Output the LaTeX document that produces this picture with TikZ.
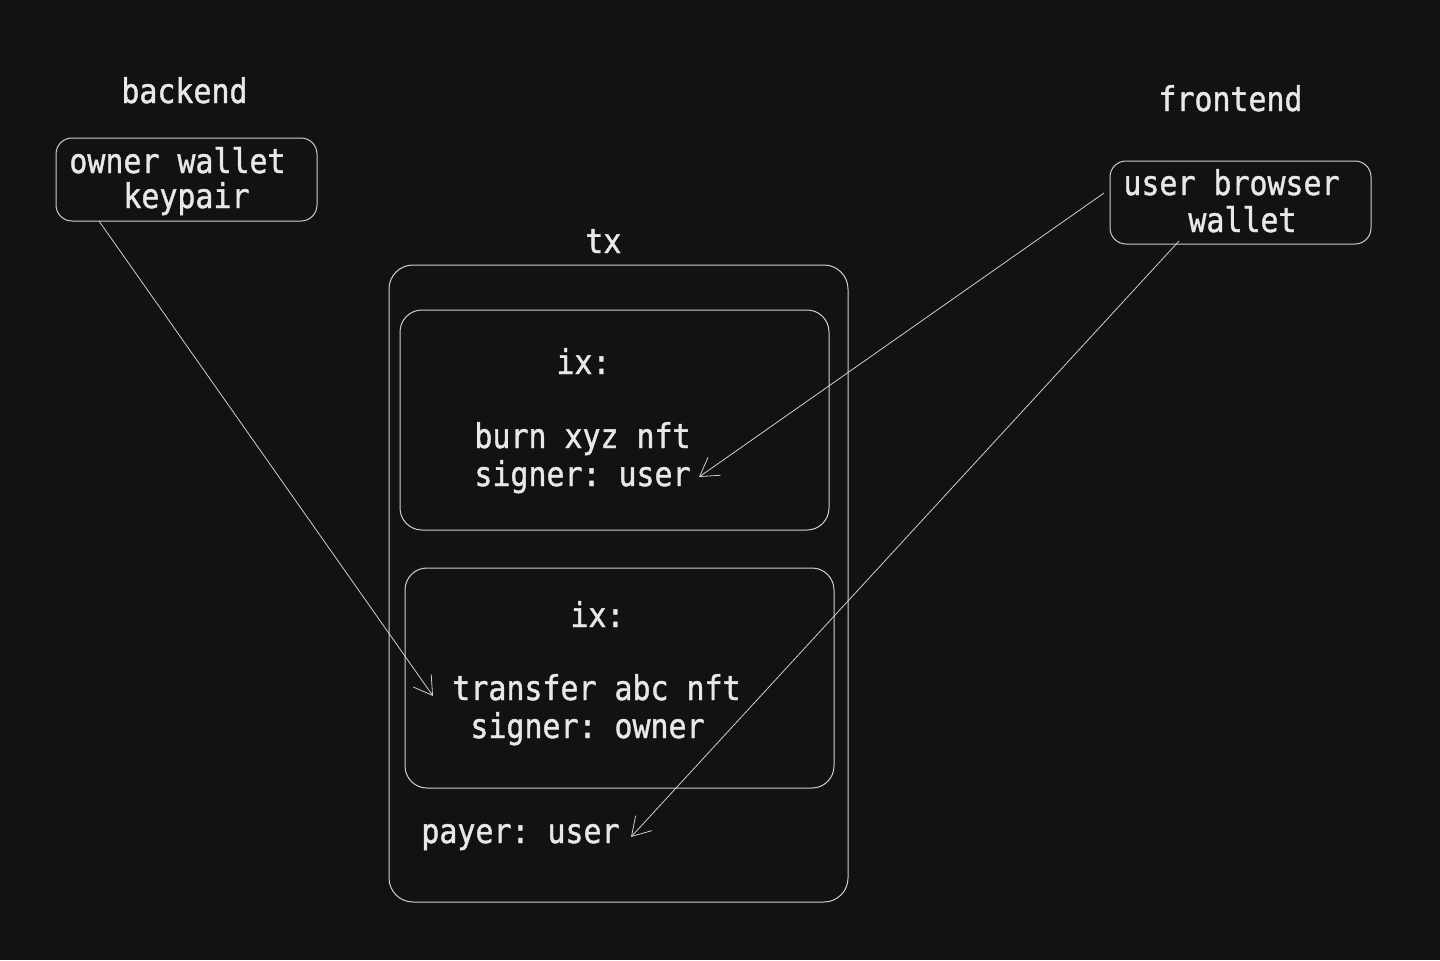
\documentclass[tikz,border=0pt]{standalone}
\usepackage{fontspec}
\newfontfamily\diagmono[FakeStretch=0.88,FakeBold=1.2,PunctuationSpace=0]{DejaVu Sans Mono}
\usetikzlibrary{arrows.meta}
\definecolor{bg}{HTML}{121212}
\definecolor{stroke}{HTML}{CFCFCF}
\definecolor{txt}{HTML}{E8E8E8}
\tikzset{
  box/.style={draw=stroke, line width=0.5pt, rounded corners=#1, inner sep=0pt},
  box/.default=8pt,
  lbl/.style={text=txt, inner sep=0pt, anchor=base west, font=\diagmono\fontsize{17}{20}\selectfont\frenchspacing},
  arr/.style={draw=stroke, line width=0.4pt, -{Straight Barb[length=9pt,width=11pt,line width=0.4pt]}}
}
\begin{document}
\begin{tikzpicture}[x=0.5pt,y=-0.5pt]
\fill[bg] (0,0) rectangle (1440,960);
\useasboundingbox (0,0) rectangle (1440,960);
% boxes
\node[box=8pt, minimum width=130.5pt, minimum height=41.5pt] (owner) at (186.5,179.5) {};
\node[box=8pt, minimum width=130.5pt, minimum height=41.5pt] (userw) at (1240.5,202.5) {};
\node[box=12pt, minimum width=229.5pt, minimum height=318.5pt] (tx) at (618.5,583.5) {};
\node[box=11pt, minimum width=214.5pt, minimum height=110pt] (ixa) at (614.5,420) {};
\node[box=11pt, minimum width=214.5pt, minimum height=110pt] (ixb) at (619.5,678) {};
% labels
\node[lbl] (backend) at (121,103) {backend};
\node[lbl] (frontend) at (1158,111) {frontend};
\node[lbl] (ow1) at (69,173) {owner wallet};
\node[lbl] (ow2) at (123,208) {keypair};
\node[lbl] (ub1) at (1123,195) {user browser};
\node[lbl] (ub2) at (1188,232) {wallet};
\node[lbl] (txl) at (585,253) {tx};
\node[lbl] (ixal) at (556,374) {ix:};
\node[lbl] (burn) at (474,448) {burn xyz nft};
\node[lbl] (sigu) at (474,486) {signer: user};
\node[lbl] (ixbl) at (570,627) {ix:};
\node[lbl] (trans) at (452,700) {transfer abc nft};
\node[lbl] (sigo) at (470,738) {signer: owner};
\node[lbl] (payer) at (421,843) {payer: user};
% connector endpoints
\coordinate (a1s) at (99,221);
\coordinate (a1e) at (433,696);
\coordinate (a2s) at (1104,193);
\coordinate (a2e) at (699,477);
\coordinate (a3s) at (1179,241);
\coordinate (a3e) at (631,837);
\draw[arr] (a1s) -- (a1e);
\draw[arr] (a2s) -- (a2e);
\draw[arr] (a3s) -- (a3e);
\end{tikzpicture}
\end{document}
